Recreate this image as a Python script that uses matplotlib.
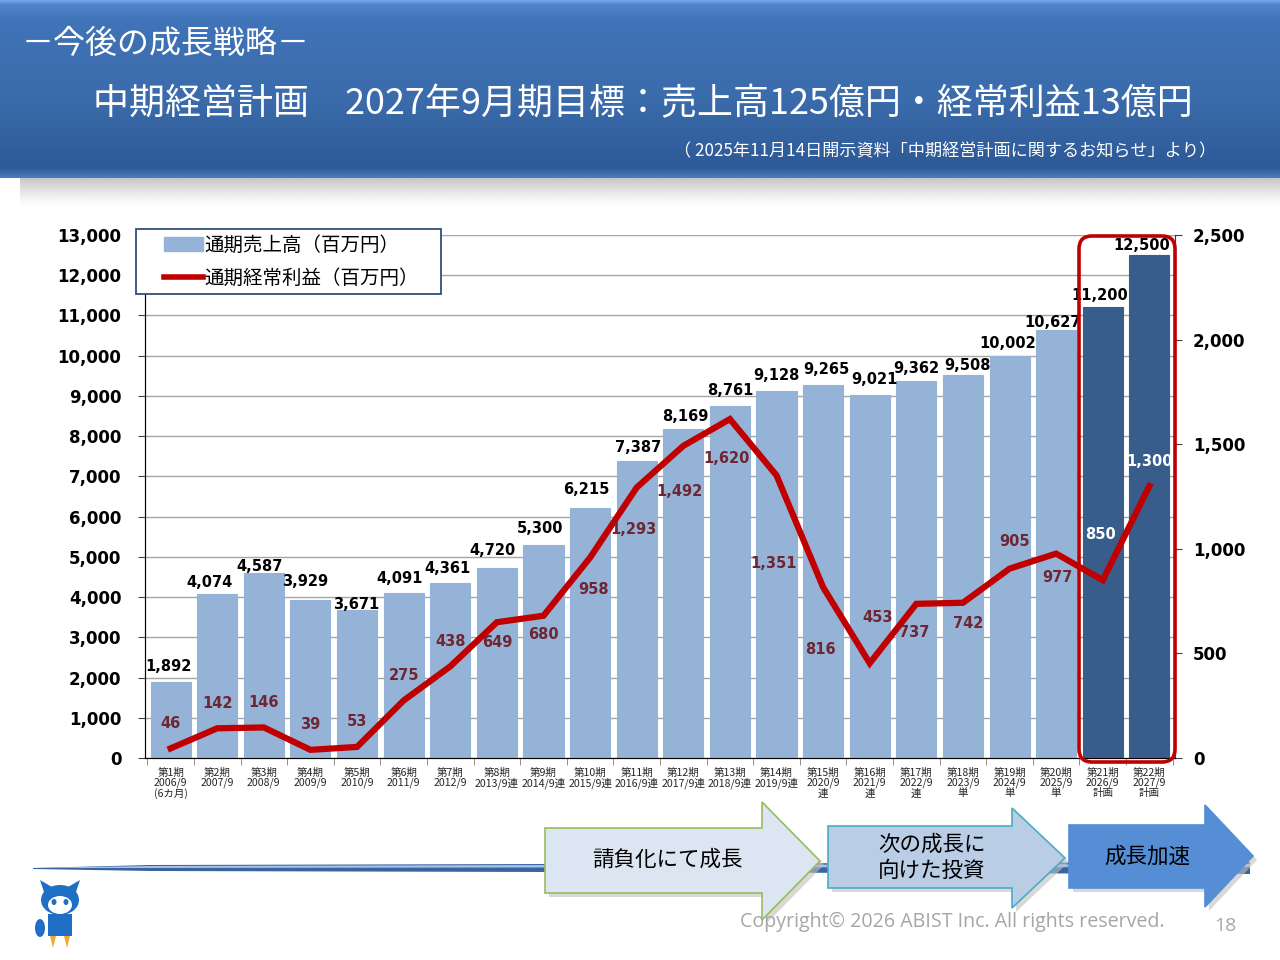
import numpy as np
import matplotlib
matplotlib.use('Agg')
import matplotlib.pyplot as plt
from matplotlib.patches import Polygon, FancyBboxPatch, Rectangle, Ellipse, Patch
from matplotlib.lines import Line2D

JP = ['Noto Sans CJK JP', 'DejaVu Sans']
plt.rcParams['font.family'] = JP

# ---------------- data ----------------
periods = ["第1期\n2006/9\n(6カ月)", "第2期\n2007/9", "第3期\n2008/9", "第4期\n2009/9",
           "第5期\n2010/9", "第6期\n2011/9", "第7期\n2012/9", "第8期\n2013/9連",
           "第9期\n2014/9連", "第10期\n2015/9連", "第11期\n2016/9連", "第12期\n2017/9連",
           "第13期\n2018/9連", "第14期\n2019/9連", "第15期\n2020/9\n連", "第16期\n2021/9\n連",
           "第17期\n2022/9\n連", "第18期\n2023/9\n単", "第19期\n2024/9\n単", "第20期\n2025/9\n単",
           "第21期\n2026/9\n計画", "第22期\n2027/9\n計画"]
sales = [1892, 4074, 4587, 3929, 3671, 4091, 4361, 4720, 5300, 6215, 7387, 8169,
         8761, 9128, 9265, 9021, 9362, 9508, 10002, 10627, 11200, 12500]
profit = [46, 142, 146, 39, 53, 275, 438, 649, 680, 958, 1293, 1492,
          1620, 1351, 816, 453, 737, 742, 905, 977, 850, 1300]
is_plan = [False] * 20 + [True] * 2
left_ticks = list(range(0, 13001, 1000))
right_ticks = list(range(0, 2501, 500))
sales_name = "通期売上高（百万円）"
profit_name = "通期経常利益（百万円）"

# label placement (pixel offsets)
sales_label_offsets = [(-2, 15), (-8, 12), (-4, 7), (-5, 18), (-1, 6), (-4, 15), (-3, 14),
                       (-4, 18), (-3, 16), (-4, 18), (1, 13), (2, 13), (0, 15), (0, 15),
                       (3, 16), (5, 16), (0, 13), (5, 10), (-2, 12), (-4, 8), (-3, 12),
                       (-8, 10)]
profit_label_offsets = [(0, 25), (0, 25), (0, 25), (0, 25), (0, 25), (0, 25), (0, 25),
                        (0, -20), (0, -19), (3, -32), (-3, -42), (-4, -46), (-3, -39),
                        (-3, -88), (-3, -62), (8, 46), (-2, -29), (5, -21), (5, 27),
                        (1, -24), (-2, 46), (0, 25)]

# ---------------- figure ----------------
W, H = 1280, 960
fig = plt.figure(figsize=(W / 100, H / 100), dpi=100)
fig.patch.set_facecolor('white')

LIGHT = '#95b3d7'
DARK = '#385d8a'
RED = '#c00000'
PLBL = '#6e2633'

ax = fig.add_axes([145 / W, 1 - 758 / H, 1030 / W, 523 / H])
x = np.arange(len(sales))
colors = [DARK if p else LIGHT for p in is_plan]
edges = [DARK if p else LIGHT for p in is_plan]
ax.bar(x, sales, width=0.86, color=colors, edgecolor=edges, linewidth=0.8, zorder=2)
ax.set_xlim(-0.55, len(sales) - 0.45)
ax.set_ylim(0, 13000)
ax.set_axisbelow(True)
ax.yaxis.grid(True, color='#a6a6a6', lw=1.0)
ax.set_yticks(left_ticks)
ax.set_yticklabels([f"{v:,}" for v in left_ticks], fontfamily='DejaVu Sans',
                   fontweight='bold', fontsize=12)
ax.set_xticks(x)
ax.set_xticklabels(periods, fontsize=7.6, linespacing=1.0, color='#262626')
ax.set_xticks(np.arange(-0.5, len(sales), 1.0), minor=True)
ax.tick_params(axis='x', which='major', length=0, pad=7)
ax.tick_params(axis='x', which='minor', length=5, color='#7f7f7f')
ax.tick_params(axis='y', which='major', length=5, color='#404040', pad=12)
ax.spines['top'].set_visible(False)
ax.spines['left'].set_color('#404040')
ax.spines['bottom'].set_color('#7f7f7f')
ax.spines['right'].set_color('#404040')

for xi, v, (dx, dy) in zip(x, sales, sales_label_offsets):
    ax.annotate(f"{v:,}", (xi, v), xytext=(dx, dy), textcoords='offset pixels',
                ha='center', va='center', fontsize=10.5, fontweight='bold',
                fontfamily='DejaVu Sans', color='black', zorder=4)

ax2 = ax.twinx()
ax2.set_ylim(0, 2500)
ax2.set_yticks(right_ticks)
ax2.set_yticklabels([f"{v:,}" for v in right_ticks], fontfamily='DejaVu Sans',
                    fontweight='bold', fontsize=12)
ax2.tick_params(axis='y', length=5, color='#404040', pad=8)
ax2.spines['top'].set_visible(False)
ax2.spines['right'].set_color('#404040')
ax2.plot(x, profit, color=RED, lw=4.5, solid_joinstyle='miter', zorder=3)
for xi, v, p, (dx, dy) in zip(x, profit, is_plan, profit_label_offsets):
    ax2.annotate(f"{v:,}", (xi, v), xytext=(dx, dy), textcoords='offset pixels',
                 ha='center', va='center', fontsize=10.5, fontweight='bold',
                 fontfamily='DejaVu Sans', color='white' if p else PLBL, zorder=5)

# ---------------- overlay (pixel coords) ----------------
ov = fig.add_axes([0, 0, 1, 1], zorder=5)
ov.set_xlim(0, W)
ov.set_ylim(H, 0)
ov.axis('off')
ov.patch.set_alpha(0)

# legend (frame drawn separately to match the box size)
ov.add_patch(Rectangle((136, 229), 305, 65, facecolor='white', edgecolor='#2f4f7a',
                       lw=1.3, zorder=7))
handles = [Patch(facecolor=LIGHT, edgecolor=LIGHT), Line2D([], [], color=RED, lw=4)]
leg = ov.legend(handles, [sales_name, profit_name], loc='upper left',
                bbox_to_anchor=(160 / W, 1 - 231 / H), bbox_transform=fig.transFigure,
                borderaxespad=0, frameon=False,
                handlelength=2.0, handletextpad=0.1, borderpad=0.2,
                labelspacing=0.6, prop={'family': JP, 'size': 14})
leg.set_zorder(8)

# banner shadow
sh = np.linspace(0, 1, 40)[:, None]
shadow = np.ones((40, 2, 4))
shadow[..., :3] = 0.6
shadow[..., 3] = (1 - sh) ** 1.3 * 0.6
ov.imshow(shadow, extent=(20, W, 208, 176), aspect='auto', zorder=1, interpolation='bilinear')

# banner gradient
stops_y = [0, 4, 20, 100, 168, 178]
stops_c = [(0.45, 0.66, 0.92), (0.31, 0.52, 0.80), (0.25, 0.45, 0.72),
           (0.23, 0.42, 0.67), (0.18, 0.35, 0.59), (0.30, 0.48, 0.74)]
yy = np.linspace(0, 178, 180)
grad = np.zeros((180, 2, 3))
for k in range(3):
    grad[:, :, k] = np.interp(yy, stops_y, [c[k] for c in stops_c])[:, None]
ov.imshow(grad, extent=(0, W, 178, 0), aspect='auto', zorder=2, interpolation='bilinear')

ov.text(22, 44, "－今後の成長戦略－", color='white', fontsize=23, ha='left', va='center', zorder=3)
ov.text(93, 104, "中期経営計画　2027年9月期目標：売上高125億円・経常利益13億円",
        color='white', fontsize=25.9, ha='left', va='center', zorder=3)
ov.text(1216, 151, "（ 2025年11月14日開示資料「中期経営計画に関するお知らせ」より）",
        color='white', fontsize=12.3, ha='right', va='center', zorder=3)

# red highlight frame
ov.add_patch(FancyBboxPatch((1079, 236), 96, 526, boxstyle='round,pad=0,rounding_size=13',
                            fill=False, edgecolor=RED, lw=2.6, zorder=6))

# timeline spindle
ov.add_patch(Polygon([(33, 868), (150, 865), (545, 864), (1250, 862), (1250, 874),
                      (545, 872), (150, 871), (33, 869)],
                     closed=True, facecolor='#3a64a0', edgecolor='none', zorder=2))
ov.add_patch(Polygon([(50, 867.5), (150, 866), (545, 865), (1250, 864), (1250, 867),
                      (545, 867.5), (150, 868), (50, 868)],
                     closed=True, facecolor='#a4c0e6', edgecolor='none', zorder=2))


def arrow(x0, x1, xt, ybt, ybb, yht, yhb, fc, ec, txt, tx, ty):
    ymid = (yht + yhb) / 2
    pts = [(x0, ybt), (x1, ybt), (x1, yht), (xt, ymid), (x1, yhb), (x1, ybb), (x0, ybb)]
    shp = [(px + 4, py + 4) for px, py in pts]
    ov.add_patch(Polygon(shp, closed=True, facecolor='#bfbfbf', edgecolor='none', alpha=0.6, zorder=3))
    ov.add_patch(Polygon(pts, closed=True, facecolor=fc, edgecolor=ec, lw=1.2, zorder=4))
    ov.text(tx, ty, txt, ha='center', va='center', fontsize=15.5, color='black',
            linespacing=1.25, zorder=5)


arrow(545, 762, 820, 828, 893, 802, 920, '#dce6f2', '#9bbb59', "請負化にて成長", 667, 860)
arrow(828, 1012, 1065, 826, 888, 808, 908, '#b9cde5', '#4bacc6', "次の成長に\n向けた投資", 932, 858)
arrow(1069, 1205, 1253, 825, 888, 805, 907, '#558ed5', '#558ed5', "成長加速", 1147, 857)

ov.text(740, 922, "Copyright© 2026 ABIST Inc. All rights reserved.", ha='left', va='center',
        fontsize=14.1, color='#a6a6a6', fontfamily='Open Sans', zorder=5)
ov.text(1225, 926, "18", ha='center', va='center', fontsize=14, color='#a6a6a6',
        fontfamily='Open Sans', zorder=5)

# simple mascot
MB = '#1f6fc5'
ov.add_patch(Polygon([(40, 880), (45, 895), (52, 887)], closed=True, fc=MB, ec='none', zorder=3))
ov.add_patch(Polygon([(80, 880), (75, 895), (68, 887)], closed=True, fc=MB, ec='none', zorder=3))
ov.add_patch(Ellipse((60, 900), 38, 30, fc=MB, ec='none', zorder=3))
ov.add_patch(Ellipse((60, 905), 24, 18, fc='white', ec='none', zorder=4))
ov.add_patch(Ellipse((54, 902), 5, 6, fc=MB, ec='none', zorder=5))
ov.add_patch(Ellipse((66, 902), 5, 6, fc=MB, ec='none', zorder=5))
ov.add_patch(Rectangle((48, 914), 24, 22, fc=MB, ec='none', zorder=3))
ov.add_patch(Ellipse((40, 928), 10, 18, fc=MB, ec='none', zorder=3))
ov.add_patch(Polygon([(50, 936), (56, 936), (53, 948)], closed=True, fc='#f0a830', ec='none', zorder=3))
ov.add_patch(Polygon([(64, 936), (70, 936), (67, 948)], closed=True, fc='#f0a830', ec='none', zorder=3))

fig.savefig('out.png', dpi=100, facecolor='white')
